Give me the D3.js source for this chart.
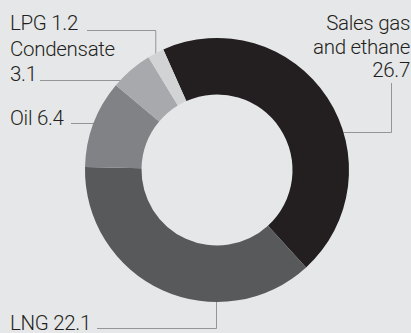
<!DOCTYPE html>
<html>
<head>
<meta charset="utf-8">
<script src="https://cdn.jsdelivr.net/npm/d3@7/dist/d3.min.js"></script>
<style>
  html, body { margin: 0; padding: 0; background: #e6e7e8; }
  svg { display: block; }
  text { font-family: Roboto, "Liberation Sans", sans-serif; font-weight: 300; fill: #231f20; }
</style>
</head>
<body>
<svg id="chart" width="411" height="333"></svg>
<script>
// Production by product (segments drawn clockwise)
const categories = ["Sales gas and ethane", "LNG", "Oil", "Condensate", "LPG"];
const values = [26.7, 22.1, 6.4, 3.1, 1.2];
const labelLines = [["Sales gas", "and ethane", "26.7"], ["LNG 22.1"], ["Oil 6.4"], ["Condensate", "3.1"], ["LPG 1.2"]];
const colors = ["#231f20", "#58595b", "#808285", "#a7a9ac", "#d1d3d4"];

const W = 411, H = 333;
const cx = 217, cy = 170, rOuter = 132, rInner = 75.5;
const startDeg = -24;

const svg = d3.select("#chart");
const data = categories.map((c, i) => ({ name: c, value: values[i], lines: labelLines[i], color: colors[i] }));

const pie = d3.pie().value(d => d.value).sort(null)
  .startAngle(startDeg * Math.PI / 180)
  .endAngle((startDeg + 360) * Math.PI / 180);
const arcs = pie(data);
const arc = d3.arc().innerRadius(rInner).outerRadius(rOuter);

// leader lines (under the ring)
const leaderColor = "#939598";
const leaders = svg.append("g").attr("fill", "none").attr("stroke", leaderColor).attr("stroke-width", 1);

// x where a horizontal line at y meets the outer edge (left or right side)
const edgeX = (y, side) => cx + side * Math.sqrt(rOuter * rOuter - (y - cy) * (y - cy));
const byName = Object.fromEntries(arcs.map(a => [a.data.name, a]));
const midPoint = (a, r) => {
  const m = (a.startAngle + a.endAngle) / 2;
  return [cx + r * Math.sin(m), cy - r * Math.cos(m)];
};

// LPG: over then down to the segment
{
  const [px, py] = midPoint(byName["LPG"], rOuter);
  leaders.append("path").attr("d", `M87,30.5H${px}V${py + 4}`);
}
// Condensate
leaders.append("path").attr("d", `M40,80.5H${edgeX(80.5, -1) + 4}`);
// Oil
leaders.append("path").attr("d", `M71,123.5H${edgeX(123.5, -1) + 4}`);
// LNG: across then up to the bottom of the ring
leaders.append("path").attr("d", `M97,328.5H216.5V${cy + rOuter - 4}`);
// Sales gas
leaders.append("path").attr("d", `M391.5,83V132.5H${edgeX(132.5, 1) - 4}`);

// ring
svg.append("g").attr("transform", `translate(${cx},${cy})`)
  .selectAll("path").data(arcs).join("path")
  .attr("d", arc)
  .attr("fill", d => d.data.color);

// labels
const fs = 20.5;
const labelPos = {
  "Sales gas and ethane": { x: 410, y: 30, anchor: "end", lh: 23.5 },
  "LNG": { x: 10, y: 329.5, anchor: "start", lh: 0 },
  "Oil": { x: 10, y: 125, anchor: "start", lh: 0 },
  "Condensate": { x: 10, y: 56, anchor: "start", lh: 24.5 },
  "LPG": { x: 10, y: 30, anchor: "start", lh: 0 }
};
const labels = svg.append("g").attr("font-size", fs);
data.forEach(d => {
  const p = labelPos[d.name];
  const t = labels.append("text").attr("text-anchor", p.anchor).attr("letter-spacing", -0.3);
  d.lines.forEach((ln, i) => {
    t.append("tspan").attr("x", p.x).attr("y", p.y + i * p.lh).text(ln);
  });
});
</script>
</body>
</html>
